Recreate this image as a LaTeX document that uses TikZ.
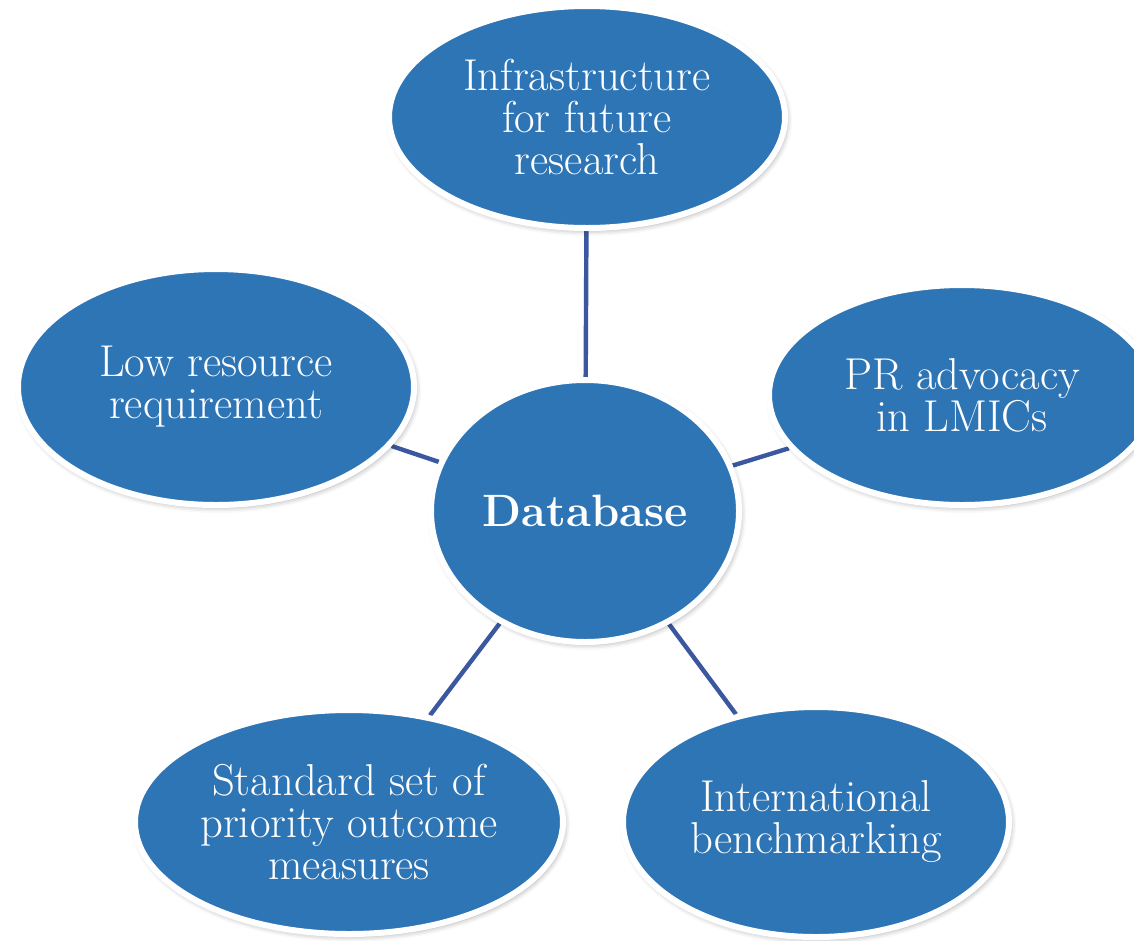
\documentclass[tikz,border=0pt]{standalone}
\usetikzlibrary{shapes.geometric,shadows.blur,backgrounds}
\definecolor{ovalblue}{RGB}{46,117,182}
\definecolor{linkblue}{RGB}{59,87,160}
\tikzset{
  oval/.style={ellipse, fill=ovalblue, draw=white, line width=4.5pt, text=white,
    align=center, inner sep=0pt, font=\fontsize{33.5}{31.5}\selectfont,
    blur shadow={shadow xshift=1.5pt, shadow yshift=-2pt, shadow blur radius=4pt, shadow opacity=35}},
  link/.style={draw=linkblue, line width=3.3pt}
}
\begin{document}
\begin{tikzpicture}[x=0.75pt, y=-0.75pt]
\useasboundingbox (0,0) rectangle (1134,940);
\node[oval, minimum width=297pt, minimum height=166.5pt] (top) at (587,117) {Infrastructure\\for future\\research};
\node[oval, minimum width=297pt, minimum height=177pt] (low) at (216,387) {Low resource\\requirement};
\node[oval, minimum width=289.5pt, minimum height=165pt] (pr) at (962,395) {PR advocacy\\in LMICs};
\node[oval, minimum width=231pt, minimum height=196.5pt, font=\fontsize{34}{36}\selectfont\bfseries] (db) at (585,511) {Database};
\node[oval, minimum width=321pt, minimum height=168pt] (std) at (349,822) {Standard set of\\priority outcome\\measures};
\node[oval, minimum width=289.5pt, minimum height=172.5pt] (intl) at (816,822) {International\\benchmarking};
\begin{scope}[on background layer]
\draw[link] (db) -- (top);
\draw[link] (db) -- (low);
\draw[link] (db) -- (pr);
\draw[link] (db) -- (std);
\draw[link] (db) -- (intl);
\end{scope}
\end{tikzpicture}
\end{document}
